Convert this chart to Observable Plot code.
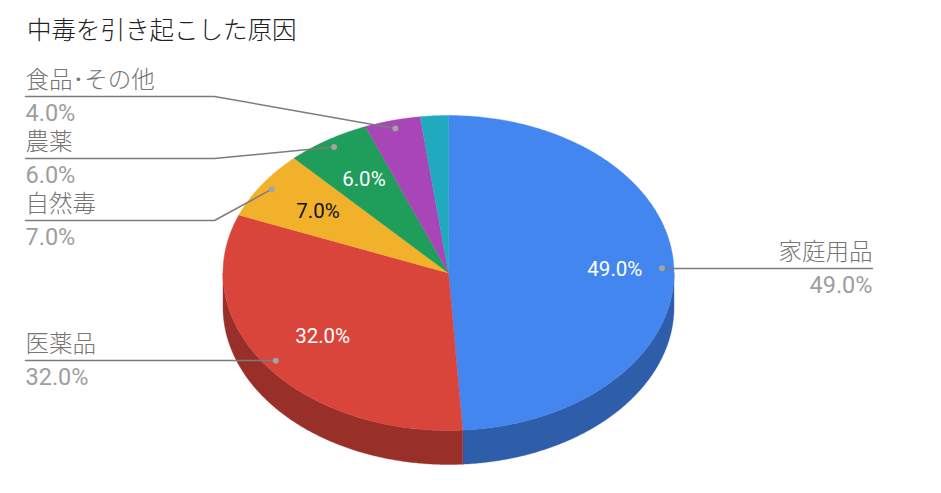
<!DOCTYPE html>
<html><head><meta charset="utf-8">
<script src="https://cdn.jsdelivr.net/npm/d3@7"></script>
<script src="https://cdn.jsdelivr.net/npm/@observablehq/plot@0.6"></script>
<style>
html,body{margin:0;padding:0;background:#fff;}
#title{height:60px;box-sizing:border-box;padding:14px 0 0 27px;font:300 24.5px/30px "Noto Sans CJK JP",sans-serif;color:#222;white-space:nowrap;}
svg{display:block;}
</style></head><body>
<div id="title">中毒を引き起こした原因</div>
<div id="chart"></div>
<script>
const categories = ["家庭用品","医薬品","自然毒","農薬","食品･その他","その他"];
const shares = [49,32,7,6,4,2];
const topColors = ["#4386f0","#d9453b","#f2b12b","#1f9d5a","#a846b8","#21a9c0"];
const sideColors = ["#2e5da9","#992f29","#a97b1e","#156e3f","#773183","#167686"];
const innerLabelColors = ["#ffffff","#ffffff","#111111","#ffffff",null,null];
const innerLabelRadius = [0.738,0.69,0.7,0.7,null,null];
const leaderY = [268,360,220,158,96,null];
const leaderElbowX = [null,null,214,214,214,null];

const W=941,H=493,top0=60;
const cx=448,cy=272.5,rx=225.5,ry=157.5,depth=34,dotR=0.947,leftX=25,rightX=872;
const total=d3.sum(shares);
let acc=0;
const slices=shares.map((v,i)=>{const s=acc/total;acc+=v;return {i,name:categories[i],v,t0:s,t1:acc/total,tm:(s+acc/total)/2};});
const pt=(t,f=1,dz=0)=>[cx+rx*f*Math.sin(2*Math.PI*t),cy-ry*f*Math.cos(2*Math.PI*t)+dz];
const steps=(a,b)=>{const n=Math.max(2,Math.ceil((b-a)*720));return d3.range(n+1).map(k=>a+(b-a)*k/n);};

const tops=[],sides=[];
for(const s of slices){
  for(const p of [[cx,cy],...steps(s.t0,s.t1).map(t=>pt(t))]) tops.push({k:s.i,x:p[0],y:p[1],c:topColors[s.i]});
  const a=Math.max(s.t0,.25),b=Math.min(s.t1,.75);
  if(b>a){
    const st=steps(a,b);
    for(const p of [...st.map(t=>pt(t)),...st.slice().reverse().map(t=>pt(t,1,depth))]) sides.push({k:s.i,x:p[0],y:p[1],c:sideColors[s.i]});
  }
}
const labelled=slices.filter(s=>leaderY[s.i]!=null);
const leftLabels=labelled.filter(s=>s.i!==0), rightLabels=labelled.filter(s=>s.i===0);
const leaders=[];
for(const s of labelled){
  const d=pt(s.tm,dotR), ly=leaderY[s.i], right=s.i===0;
  const path=[[d[0],d[1]]];
  if(leaderElbowX[s.i]!=null) path.push([leaderElbowX[s.i],ly]);
  path.push([right?rightX:leftX,ly]);
  if(leaderElbowX[s.i]==null) path[0][1]=ly;
  path.forEach(p=>leaders.push({k:s.i,x:p[0],y:p[1]}));
}
const fontCJK='"Noto Sans CJK JP",sans-serif';
const pctFmt=v=>v.toFixed(1)+"%";
const nameMark=(rows,x,anchor)=>Plot.text(rows,{x:()=>x,y:s=>leaderY[s.i]-16,text:"name",fill:"#757575",fontFamily:fontCJK,fontWeight:300,fontSize:23.5,textAnchor:anchor});
const valueMark=(rows,x,anchor)=>Plot.text(rows,{x:()=>x,y:s=>leaderY[s.i]+17,text:s=>pctFmt(s.v),fill:"#9e9e9e",fontFamily:"Roboto",fontSize:23.5,textAnchor:anchor});
const chart=Plot.plot({
  width:W,height:H-top0,margin:0,
  x:{domain:[0,W],range:[0,W],axis:null},
  y:{domain:[top0,H],range:[0,H-top0],axis:null},
  marks:[
    Plot.line(sides,{x:"x",y:"y",z:"k",fill:"c",stroke:"c",strokeWidth:0.4,curve:"linear-closed"}),
    Plot.line(tops,{x:"x",y:"y",z:"k",fill:"c",stroke:"c",strokeWidth:0.4,curve:"linear-closed"}),
    Plot.line(leaders,{x:"x",y:"y",z:"k",stroke:"#7c7c7c",strokeWidth:1.5}),
    Plot.dot(labelled,{x:s=>pt(s.tm,dotR)[0],y:s=>pt(s.tm,dotR)[1],r:3,fill:"#a3a3a3",stroke:"none"}),
    Plot.text(labelled,{x:s=>pt(s.tm,innerLabelRadius[s.i])[0],y:s=>pt(s.tm,innerLabelRadius[s.i])[1],text:s=>pctFmt(s.v),fill:s=>innerLabelColors[s.i],fontFamily:"Roboto",fontSize:20.5,textAnchor:"middle"}),
    nameMark(leftLabels,leftX,"start"),
    nameMark(rightLabels,rightX,"end"),
    valueMark(leftLabels,leftX,"start"),
    valueMark(rightLabels,rightX,"end")
  ]
});
document.getElementById("chart").append(chart);
</script>
</body></html>
